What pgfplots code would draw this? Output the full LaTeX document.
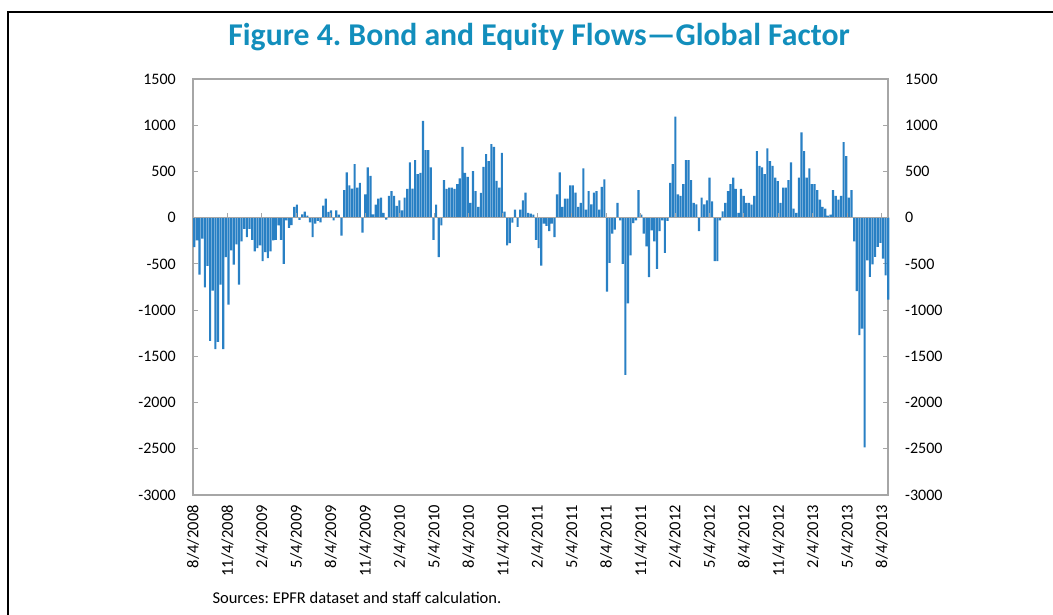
\documentclass[border=0pt]{standalone}
\usepackage{fontspec}
\setmainfont{Carlito}
\usepackage{pgfplots}
\pgfplotsset{compat=1.18}
\definecolor{barblue}{RGB}{41,128,196}
\definecolor{titleblue}{RGB}{18,142,188}
\definecolor{axisgray}{RGB}{166,166,166}
\frenchspacing

\pgfplotsset{
  flowframe/.style={
    at={(193pt,120pt)}, anchor=south west,
    scale only axis, width=695pt, height=416pt,
    xmin=0.5, xmax=264.9, ymin=-3000, ymax=1500,
    ytick={-3000,-2500,...,1500},
    scaled y ticks=false,
    /pgf/number format/1000 sep={},
    /pgf/number format/assume math mode=true,
    yticklabel style={font=\fontsize{16}{16}\selectfont, inner sep=0pt},
    yticklabel shift=17pt,
  }
}

\begin{document}
\begin{tikzpicture}
\path[use as bounding box] (0,0) rectangle (1053pt,615pt);
\draw[line width=2pt] (8pt,-3pt) -- (8pt,603pt) -- (1058pt,603pt);
\node[font=\fontsize{31.7}{34}\selectfont\bfseries, text=titleblue] at (539pt,578pt)
  {Figure 4. Bond and Equity Flows---Global Factor};
\node[anchor=west, font=\fontsize{16.5}{18}\selectfont] at (209pt,17pt)
  {Sources: EPFR dataset and staff calculation.};

\begin{axis}[
  flowframe,
  clip=false,
  axis line style={draw=axisgray, line width=1.2pt},
  tick align=inside,
  major tick length=5pt,
  ytick pos=both, yticklabel pos=left,
  y tick style={draw=axisgray, line width=1pt},
  x tick style={draw=none},
  xtick={0.5,13.6,26.7,39.8,52.9,66.0,79.1,92.2,105.3,118.4,131.5,144.6,157.7,170.8,183.9,197.0,210.1,223.2,236.3,249.4,262.5},
  xticklabels={8/4/2008,11/4/2008,2/4/2009,5/4/2009,8/4/2009,11/4/2009,2/4/2010,5/4/2010,8/4/2010,11/4/2010,2/4/2011,5/4/2011,8/4/2011,11/4/2011,2/4/2012,5/4/2012,8/4/2012,11/4/2012,2/4/2013,5/4/2013,8/4/2013},
  xticklabel style={rotate=90, anchor=east, inner sep=0pt, font=\fontsize{16.5}{16.5}\selectfont},
  xticklabel shift=10pt,
]
\addplot[ybar, bar width=0.82, fill=barblue, draw=none] coordinates {
(1,-320) (2,-245) (3,-615) (4,-228) (5,-753) (6,-521) (7,-1332) (8,-789) (9,-1423) (10,-1343)
(11,-724) (12,-1423) (13,-427) (14,-941) (15,-355) (16,-507) (17,-290) (18,-724) (19,-257) (20,-120)
(21,-210) (22,-120) (23,-239) (24,-366) (25,-330) (26,-300) (27,-470) (28,-373) (29,-438) (30,-366)
(31,-246) (32,-239) (33,-83) (34,-240) (35,-500) (36,-30) (37,-110) (38,-80) (39,116) (40,140)
(41,-25) (42,36) (43,65) (44,22) (45,-50) (46,-210) (47,-65) (48,-36) (49,-50) (50,130)
(51,206) (52,62) (53,80) (54,-29) (55,80) (56,33) (57,-195) (58,297) (59,489) (60,348)
(61,315) (62,579) (63,326) (64,376) (65,-163) (66,253) (67,543) (68,452) (69,36) (70,141)
(71,206) (72,217) (73,51) (74,-22) (75,235) (76,286) (77,235) (78,127) (79,188) (80,80)
(81,217) (82,311) (83,597) (84,315) (85,623) (86,471) (87,485) (88,1046) (89,731) (90,731)
(91,543) (92,-239) (93,141) (94,-427) (95,-83) (96,405) (97,311) (98,326) (99,326) (100,311)
(101,362) (102,424) (103,767) (104,485) (105,442) (106,159) (107,503) (108,286) (109,116) (110,268)
(111,550) (112,688) (113,612) (114,796) (115,767) (116,398) (117,326) (118,702) (119,65) (120,-300)
(121,-275) (122,-54) (123,87) (124,-101) (125,87) (126,188) (127,271) (128,51) (129,43) (130,33)
(131,-239) (132,-330) (133,-518) (134,-65) (135,-90) (136,-145) (137,-65) (138,-210) (139,253) (140,489)
(141,116) (142,206) (143,206) (144,348) (145,348) (146,271) (147,116) (148,159) (149,532) (150,87)
(151,286) (152,145) (153,271) (154,286) (155,87) (156,333) (157,413) (158,-800) (159,-489) (160,-174)
(161,-130) (162,159) (163,-29) (164,-500) (165,-1700) (166,-927) (167,-409) (168,-58) (169,-29) (170,297)
(171,33) (172,-174) (173,-311) (174,-644) (175,-138) (176,-257) (177,-554) (178,-145) (179,-29) (180,-380)
(181,-36) (182,376) (183,579) (184,1093) (185,253) (186,235) (187,362) (188,623) (189,623) (190,405)
(191,159) (192,145) (193,-145) (194,217) (195,145) (196,188) (197,434) (198,177) (199,-470) (200,-470)
(201,-29) (202,69) (203,159) (204,286) (205,362) (206,434) (207,311) (208,51) (209,311) (210,235)
(211,159) (212,159) (213,141) (214,235) (215,720) (216,561) (217,543) (218,471) (219,749) (220,612)
(221,561) (222,434) (223,395) (224,159) (225,326) (226,326) (227,405) (228,597) (229,98) (230,51)
(231,434) (232,923) (233,720) (234,434) (235,532) (236,362) (237,362) (238,297) (239,195) (240,116)
(241,98) (242,22) (243,33) (244,297) (245,235) (246,195) (247,235) (248,818) (249,666) (250,217)
(251,297) (252,-256) (253,-796) (254,-1271) (255,-1200) (256,-2484) (257,-461) (258,-641) (259,-504) (260,-425)
(261,-317) (262,-274) (263,-443) (264,-623) (265,-886)
};
\draw[axisgray, line width=1.2pt] (axis cs:0.5,0) -- (axis cs:264.9,0);
\pgfplotsinvokeforeach{0.5,13.6,26.7,39.8,52.9,66.0,79.1,92.2,105.3,118.4,131.5,144.6,157.7,170.8,183.9,197.0,210.1,223.2,236.3,249.4,262.5}{
  \draw[axisgray, line width=1pt] (axis cs:#1,0) -- (axis cs:#1,55);
}
\end{axis}

\begin{axis}[
  flowframe,
  hide x axis,
  axis y line*=right,
  axis line style={draw=none},
  major tick length=0pt,
]
\end{axis}
\end{tikzpicture}
\end{document}
